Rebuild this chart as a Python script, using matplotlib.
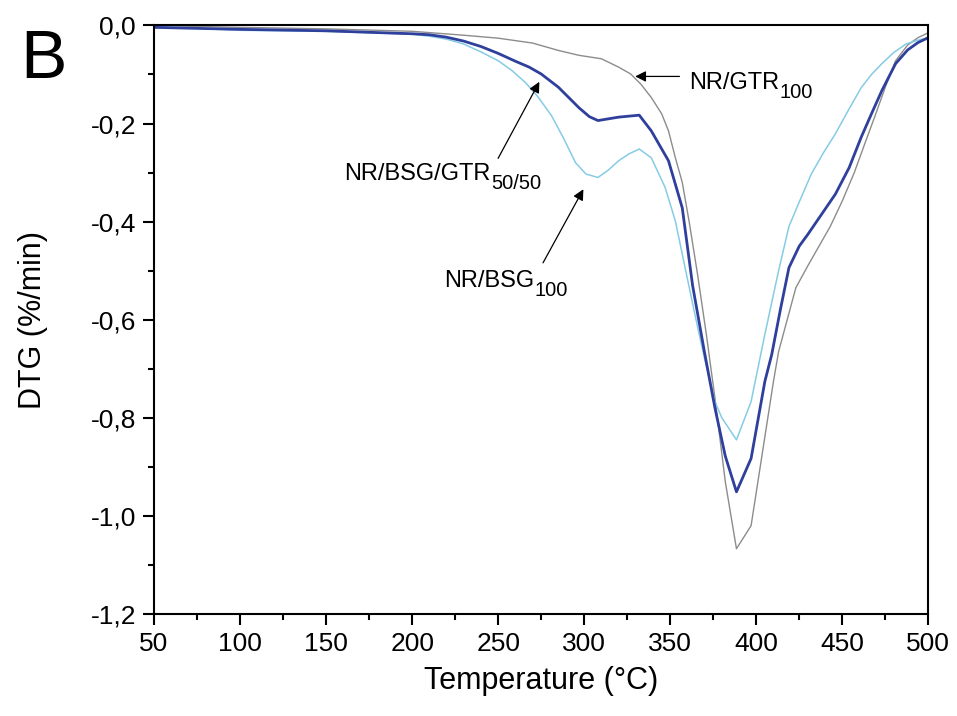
import matplotlib
matplotlib.use('Agg')
import matplotlib.pyplot as plt
from matplotlib.ticker import MultipleLocator, FuncFormatter
from matplotlib.transforms import offset_copy

plt.rcParams['font.family'] = ['Liberation Sans', 'DejaVu Sans']

# NR/GTR100 (grey)
t_gtr = [50, 100, 150, 200, 230, 250, 270, 285, 297, 310, 320, 327, 333, 339, 345,
         349, 353, 357, 361, 366, 371, 376, 382, 388.5, 397, 410, 413, 418, 423, 430,
         436, 443, 450, 457, 463, 469, 475, 481, 488, 494, 500]
dtg_gtr = [0.0, -0.004, -0.007, -0.012, -0.02, -0.026, -0.036, -0.051, -0.061, -0.068,
           -0.085, -0.099, -0.12, -0.147, -0.18, -0.215, -0.27, -0.32, -0.40, -0.51,
           -0.63, -0.76, -0.93, -1.067, -1.02, -0.726, -0.665, -0.60, -0.535, -0.49,
           -0.453, -0.41, -0.358, -0.30, -0.242, -0.185, -0.126, -0.072, -0.04, -0.025, -0.015]

# NR/BSG/GTR50/50 (dark blue)
t_mix = [50, 100, 150, 200, 210, 220, 230, 240, 250, 260, 268, 275, 285, 297, 303, 308,
         320, 332, 339, 349, 357, 363, 370, 376, 382, 388.5, 397, 405, 409, 414, 419,
         425, 430, 438, 446, 454, 461, 467, 473, 481, 488, 494, 500]
dtg_mix = [-0.004, -0.008, -0.011, -0.017, -0.019, -0.024, -0.032, -0.043, -0.057, -0.073,
           -0.085, -0.099, -0.126, -0.168, -0.186, -0.194, -0.187, -0.183, -0.215, -0.276,
           -0.372, -0.53, -0.668, -0.78, -0.878, -0.951, -0.883, -0.726, -0.671, -0.58,
           -0.494, -0.45, -0.426, -0.385, -0.344, -0.29, -0.228, -0.18, -0.133, -0.078,
           -0.05, -0.035, -0.025]

# NR/BSG100 (light blue)
t_bsg = [50, 100, 150, 200, 210, 220, 230, 240, 250, 258, 266, 273, 281, 288, 295, 301,
         308, 314, 320, 326, 332, 339, 347, 353, 359, 365, 370, 376, 380, 388.5, 397, 405,
         413, 419, 425, 432, 439, 446, 454, 461, 467, 473, 480, 487, 494, 500]
dtg_bsg = [-0.002, -0.01, -0.012, -0.018, -0.022, -0.028, -0.038, -0.054, -0.072, -0.092,
           -0.117, -0.145, -0.184, -0.23, -0.28, -0.303, -0.31, -0.295, -0.276, -0.262,
           -0.252, -0.27, -0.33, -0.399, -0.50, -0.60, -0.68, -0.767, -0.80, -0.845,
           -0.767, -0.63, -0.50, -0.41, -0.36, -0.303, -0.26, -0.221, -0.17, -0.127,
           -0.10, -0.078, -0.055, -0.038, -0.03, -0.025]

fig = plt.figure(figsize=(9.57, 7.16), dpi=100)
ax = fig.add_axes([0.161, 0.1425, 0.809, 0.822])

ax.plot(t_gtr, dtg_gtr, color='#8c8c8c', lw=1.0)
ax.plot(t_bsg, dtg_bsg, color='#86cbe6', lw=1.1)
ax.plot(t_mix, dtg_mix, color='#2f3f9c', lw=2.0)

ax.set_xlim(50, 500)
ax.set_ylim(-1.2, 0.0)
ax.xaxis.set_major_locator(MultipleLocator(50))
ax.xaxis.set_minor_locator(MultipleLocator(25))
ax.yaxis.set_major_locator(MultipleLocator(0.2))
ax.yaxis.set_minor_locator(MultipleLocator(0.1))
ax.yaxis.set_major_formatter(FuncFormatter(lambda v, p: ('%.1f' % v).replace('.', ',').replace('-0,0', '0,0')))

for s in ax.spines.values():
    s.set_linewidth(1.5)
ax.tick_params(which='major', direction='out', length=8, width=1.5, labelsize=19, pad=5)
ax.tick_params(which='minor', direction='out', length=4.5, width=1.5)

ax.set_xlabel('Temperature (°C)', fontsize=22, labelpad=7)
ax.set_ylabel('DTG (%/min)', fontsize=22)
ax.yaxis.set_label_coords(-0.137, 0.5)

arrow = dict(arrowstyle='-|>', color='black', lw=0.9, mutation_scale=16)
ax.annotate('', xy=(328, -0.104), xytext=(357, -0.104), arrowprops=arrow)
ax.annotate('', xy=(274.7, -0.11), xytext=(249.2, -0.276), arrowprops=arrow)
ax.annotate('', xy=(300.3, -0.329), xytext=(275.3, -0.489), arrowprops=arrow)

# labels with big, low subscripts
fig.canvas.draw()
renderer = fig.canvas.get_renderer()
def sub_label(x, y, main, sub):
    t = ax.text(x, y, main, fontsize=17, ha='left', va='baseline')
    w = t.get_window_extent(renderer).width * 72.0 / fig.dpi
    tr = offset_copy(ax.transData, fig=fig, x=w + 0.5, y=-6.5, units='points')
    ax.text(x, y, sub, fontsize=14.5, ha='left', va='baseline', transform=tr)

sub_label(361, -0.129, 'NR/GTR', '100')
sub_label(160.3, -0.315, 'NR/BSG/GTR', '50/50')
sub_label(218.4, -0.534, 'NR/BSG', '100')

fig.text(0.021, 0.891, 'B', fontsize=50, ha='left', va='baseline')

fig.savefig('out.png', dpi=100)
